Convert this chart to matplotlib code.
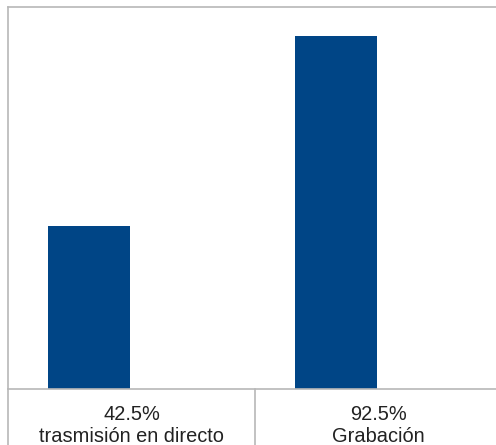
import numpy as np
import matplotlib
matplotlib.use("Agg")
import matplotlib.pyplot as plt
from matplotlib.lines import Line2D

categories = ["trasmisión en directo", "Grabación"]
values = [42.5, 92.5]
value_labels = ["42.5%", "92.5%"]

W, H = 496, 445
fig = plt.figure(figsize=(W / 100, H / 100), dpi=100)
plt.rcParams['font.family'] = ['Liberation Sans', 'DejaVu Sans']

left_px, top_px, base_px = 8, 7, 388.5
cell_px = 247
ax = fig.add_axes([left_px / W, (H - base_px) / H,
                   2 * cell_px / W, (base_px - top_px) / H])

grid_col = "#b8b8b8"
x = np.arange(len(categories))
offset = 0.5 - 81 / cell_px
ax.bar(x - offset, values, width=82 / cell_px, color="#004586")
ax.set_xlim(-0.5, len(categories) - 0.5)
ax.set_ylim(0, 100)
ax.set_xticks([])
ax.set_yticks([])
ax.spines["right"].set_visible(False)
for s in ["left", "top", "bottom"]:
    ax.spines[s].set_color(grid_col)
    ax.spines[s].set_linewidth(1.2)

# table below the axis
def fx(px):
    return px / W
def fy(py):
    return 1 - py / H

fig.add_artist(Line2D([fx(left_px), fx(left_px)], [fy(base_px), 0], color=grid_col, lw=1.2))
fig.add_artist(Line2D([fx(left_px + cell_px), fx(left_px + cell_px)], [fy(base_px), 0], color=grid_col, lw=1.2))

for i, (cat, lab) in enumerate(zip(categories, value_labels)):
    ax.annotate(lab, xy=(i, 0), xycoords=("data", "axes fraction"),
                xytext=(0, -26.5 * 0.72), textcoords="offset points",
                ha="center", va="center", fontsize=14.4, color="#222222",
                annotation_clip=False)
    ax.annotate(cat, xy=(i, 0), xycoords=("data", "axes fraction"),
                xytext=(0, -48.5 * 0.72), textcoords="offset points",
                ha="center", va="center", fontsize=14.4, color="#222222",
                annotation_clip=False)

fig.savefig("out.png", dpi=100)
